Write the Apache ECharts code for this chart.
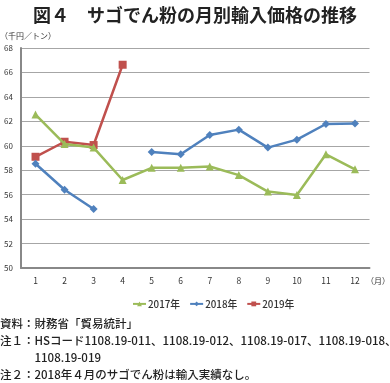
<!DOCTYPE html>
<html>
<head>
<meta charset="utf-8">
<script src="https://cdn.jsdelivr.net/npm/echarts@6/dist/echarts.min.js"></script>
<style>
html,body{margin:0;padding:0;background:#fff;}
#c{width:390px;height:383px;}
</style>
</head>
<body>
<div id="c"></div>
<script>
const months = ['1','2','3','4','5','6','7','8','9','10','11','12'];
const s2017 = [62.55, 60.15, 59.85, 57.2, 58.2, 58.2, 58.3, 57.6, 56.25, 55.97, 59.3, 58.07];
const s2018 = [58.53, 56.4, 54.83, null, 59.5, 59.3, 60.88, 61.32, 59.85, 60.5, 61.78, 61.83];
const s2019 = [59.1, 60.33, 60.06, 66.63, null, null, null, null, null, null, null, null];
const seriesNames = ['2017年', '2018年', '2019年'];
const titleText = '図４　サゴでん粉の月別輸入価格の推移';
const unitText = '（千円／トン）';
const monthUnit = '（月）';
const notes = [
  '資料：財務省「貿易統計」',
  '注１：HSコード1108.19-011、1108.19-012、1108.19-017、1108.19-018、',
  '　　　1108.19-019',
  '注２：2018年４月のサゴでん粉は輸入実績なし。'
];

const FONT = '"Noto Sans CJK JP", "Noto Sans", sans-serif';
const chart = echarts.init(document.getElementById('c'), null, {renderer: 'canvas'});
const colors = ['#9BBB59', '#4F81BD', '#C0504D'];
const symbols = ['triangle', 'diamond', 'rect'];
const datas = [s2017, s2018, s2019];

const noteTops = [318, 335, 352, 369];

chart.setOption({
  animation: false,
  textStyle: {fontFamily: FONT},
  title: {
    text: titleText,
    left: 'center',
    top: 1,
    textStyle: {fontFamily: FONT, fontSize: 18, fontWeight: 'bold', color: '#222'}
  },
  legend: {
    data: seriesNames,
    top: 294,
    left: 127,
    itemWidth: 13,
    itemHeight: 6,
    itemGap: 9,
    textStyle: {fontFamily: FONT, fontSize: 9.8, fontWeight: 500, color: '#333', padding: [0, 0, 0, -3]}
  },
  grid: {left: 21, right: 20.5, top: 48, bottom: 115, containLabel: false},
  xAxis: {
    type: 'category',
    data: months,
    boundaryGap: true,
    axisLine: {lineStyle: {color: '#888', width: 2}},
    axisTick: {show: false},
    axisLabel: {fontSize: 8.5, color: '#333', margin: 9, fontFamily: FONT}
  },
  yAxis: {
    type: 'value',
    min: 50,
    max: 68,
    interval: 2,
    axisLine: {show: true, lineStyle: {color: '#888', width: 2}},
    axisTick: {show: false},
    axisLabel: {fontSize: 8, color: '#333', margin: 8, fontFamily: FONT},
    splitLine: {lineStyle: {color: '#a6a6a6', width: 1.2}}
  },
  graphic: [
    {type: 'text', left: 0, top: 32, style: {text: unitText, fontSize: 8, fill: '#333', fontFamily: FONT}},
    {type: 'text', left: 366, top: 277, style: {text: monthUnit, fontSize: 8, fill: '#333', fontFamily: FONT}}
  ].concat(notes.map((t, i) => ({
    type: 'text', left: 0, top: noteTops[i],
    style: {text: t, fontSize: 11.5, fontWeight: 500, fill: '#222', fontFamily: FONT}
  }))),
  series: seriesNames.map((n, i) => ({
    name: n,
    type: 'line',
    data: datas[i],
    connectNulls: false,
    symbol: symbols[i],
    symbolSize: 8,
    showAllSymbol: true,
    lineStyle: {color: colors[i], width: 2.5},
    itemStyle: {color: colors[i]},
    z: 3 - i
  }))
});
</script>
</body>
</html>
